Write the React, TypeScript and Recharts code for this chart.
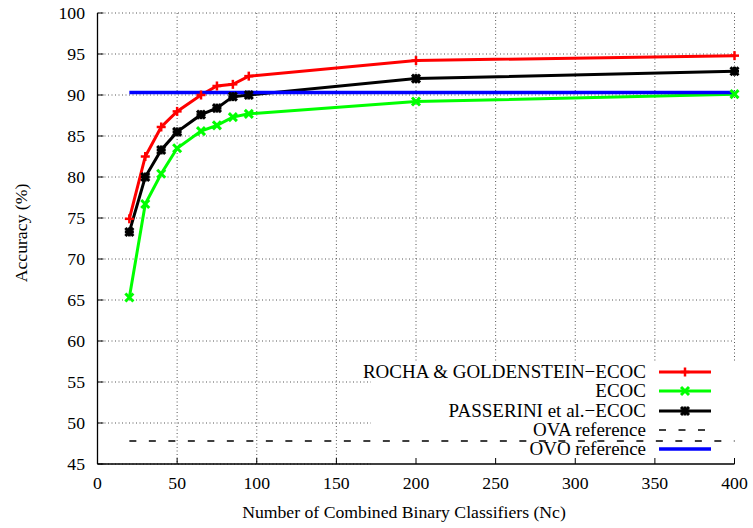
import React from "react";
import {
  LineChart,
  Line,
  XAxis,
  YAxis,
  CartesianGrid,
  Label,
} from "recharts";

// number of combined binary classifiers (Nc)
const nc = [20, 30, 40, 50, 65, 75, 85, 95, 200, 400];

// accuracy (%) per method
const rocha = [74.9, 82.5, 86.1, 88.0, 90.0, 91.1, 91.3, 92.3, 94.2, 94.8];
const ecoc = [65.3, 76.7, 80.4, 83.5, 85.6, 86.3, 87.3, 87.7, 89.2, 90.1];
const passerini = [73.3, 80.0, 83.3, 85.5, 87.6, 88.4, 89.8, 90.0, 92.0, 92.9];
const ovaRef = 47.8;
const ovoRef = 90.3;

const xTicks = [0, 50, 100, 150, 200, 250, 300, 350, 400];
const yTicks = [45, 50, 55, 60, 65, 70, 75, 80, 85, 90, 95, 100];

const legendNames = [
  "ROCHA & GOLDENSTEIN\u2212ECOC",
  "ECOC",
  "PASSERINI et al.\u2212ECOC",
  "OVA reference",
  "OVO reference",
];

const data = nc.map((x, i) => ({
  nc: x,
  rocha: rocha[i],
  ecoc: ecoc[i],
  passerini: passerini[i],
  ova: ovaRef,
  ovo: ovoRef,
}));

const FONT = "'Liberation Serif', 'Times New Roman', Times, serif";
const TICK_FONT = 17.7;
const textStyle = { fontFamily: FONT, fontSize: TICK_FONT, fill: "#000" };
// area of the key where gnuplot leaves the grid out
const KEY_BOX = { left: 371, top: 362 };
const GRID = { stroke: "#555", strokeWidth: 1, strokeDasharray: "1 2.5" };

type MarkProps = { cx?: number; cy?: number; index?: number; color: string };

function PlusMark({ cx = 0, cy = 0, color }: MarkProps) {
  const s = 4.5;
  return (
    <g stroke={color} strokeWidth={2.5}>
      <line x1={cx - s} y1={cy} x2={cx + s} y2={cy} />
      <line x1={cx} y1={cy - s} x2={cx} y2={cy + s} />
    </g>
  );
}

function CrossMark({ cx = 0, cy = 0, color }: MarkProps) {
  const s = 4;
  return (
    <g stroke={color} strokeWidth={3}>
      <line x1={cx - s} y1={cy - s} x2={cx + s} y2={cy + s} />
      <line x1={cx - s} y1={cy + s} x2={cx + s} y2={cy - s} />
    </g>
  );
}

function StarMark({ cx = 0, cy = 0, color }: MarkProps) {
  const s = 4.5;
  const d = 4;
  return (
    <g stroke={color} strokeWidth={3}>
      <line x1={cx - s} y1={cy} x2={cx + s} y2={cy} />
      <line x1={cx} y1={cy - s} x2={cx} y2={cy + s} />
      <line x1={cx - d} y1={cy - d} x2={cx + d} y2={cy + d} />
      <line x1={cx - d} y1={cy + d} x2={cx + d} y2={cy - d} />
    </g>
  );
}

const BottomTick = (p: any) => (
  <g>
    <line x1={p.x} y1={p.y} x2={p.x} y2={p.y - 6} stroke="#000" />
    <text
      x={p.x}
      y={p.y + 19}
      textAnchor="middle"
      dominantBaseline="central"
      style={textStyle}
    >
      {p.payload.value}
    </text>
  </g>
);

const LeftTick = (p: any) => (
  <g>
    <line x1={p.x} y1={p.y} x2={p.x + 6} y2={p.y} stroke="#000" />
    <text
      x={p.x - 12.5}
      y={p.y}
      textAnchor="end"
      dominantBaseline="central"
      style={textStyle}
    >
      {p.payload.value}
    </text>
  </g>
);

const TopTick = (p: any) => (
  <line x1={p.x} y1={p.y} x2={p.x} y2={p.y + 6} stroke="#000" />
);

const RightTick = (p: any) => (
  <line x1={p.x} y1={p.y} x2={p.x - 6} y2={p.y} stroke="#000" />
);

const hGrid = (p: any) => {
  const inKey = p.y1 > KEY_BOX.top;
  return (
    <line
      key={p.key ?? `h-${p.index}`}
      x1={p.x1}
      y1={p.y1}
      x2={inKey ? Math.min(p.x2, KEY_BOX.left) : p.x2}
      y2={p.y2}
      {...GRID}
    />
  );
};

const vGrid = (p: any) => {
  const inKey = p.x1 > KEY_BOX.left;
  const top = Math.min(p.y1, p.y2);
  const bottom = Math.max(p.y1, p.y2);
  return (
    <line
      key={p.key ?? `v-${p.index}`}
      x1={p.x1}
      y1={top}
      x2={p.x2}
      y2={inKey ? KEY_BOX.top : bottom}
      {...GRID}
    />
  );
};

const legendRows = [
  { color: "#ff0000", mark: PlusMark, dash: undefined, width: 3 },
  { color: "#00ff00", mark: CrossMark, dash: undefined, width: 3 },
  { color: "#000000", mark: StarMark, dash: undefined, width: 3 },
  { color: "#000000", mark: null, dash: "7 12.5", width: 1.5 },
  { color: "#0000ff", mark: null, dash: undefined, width: 3.5 },
];

function Key() {
  return (
    <>
      {legendNames.map((name, i) => {
        const row = legendRows[i];
        const cy = 371.7 + i * 19.4;
        const Mark = row.mark;
        return (
          <React.Fragment key={name}>
            <div
              style={{
                position: "absolute",
                left: 0,
                top: cy - 11,
                width: 646,
                height: 22,
                lineHeight: "22px",
                textAlign: "right",
                fontFamily: FONT,
                fontSize: 19,
                color: "#000",
                whiteSpace: "nowrap",
              }}
            >
              {name}
            </div>
            <svg
              width={56}
              height={22}
              style={{ position: "absolute", left: 657, top: cy - 11 }}
            >
              <line
                x1={2}
                y1={11}
                x2={54}
                y2={11}
                stroke={row.color}
                strokeWidth={row.width}
                strokeDasharray={row.dash}
              />
              {Mark && <Mark cx={28} cy={11} color={row.color} />}
            </svg>
          </React.Fragment>
        );
      })}
    </>
  );
}

export default function App() {
  return (
    <div
      style={{
        position: "absolute",
        left: 0,
        top: 0,
        width: 753,
        height: 528,
        background: "#fff",
        fontFamily: FONT,
      }}
    >
      <LineChart
        width={753}
        height={528}
        data={data}
        margin={{ top: 13, right: 18.5, bottom: 0, left: 0 }}
        style={{ fontFamily: FONT }}
      >
        <CartesianGrid horizontal={hGrid} vertical={vGrid} />
        <XAxis
          dataKey="nc"
          type="number"
          domain={[0, 400]}
          ticks={xTicks}
          height={64}
          tickSize={0}
          tickMargin={0}
          tickLine={false}
          axisLine={{ stroke: "#000", strokeWidth: 1.3 }}
          tick={BottomTick}
          interval={0}
        >
          <Label
            content={() => (
              <text
                x={404}
                y={512}
                textAnchor="middle"
                dominantBaseline="central"
                style={textStyle}
              >
                Number of Combined Binary Classifiers (Nc)
              </text>
            )}
          />
        </XAxis>
        <XAxis
          xAxisId="top"
          orientation="top"
          dataKey="nc"
          type="number"
          domain={[0, 400]}
          ticks={xTicks}
          height={0}
          tickSize={0}
          tickMargin={0}
          tickLine={false}
          axisLine={{ stroke: "#000", strokeWidth: 1.3 }}
          tick={TopTick}
          interval={0}
        />
        <YAxis
          type="number"
          domain={[45, 100]}
          ticks={yTicks}
          width={97.5}
          tickSize={0}
          tickMargin={0}
          tickLine={false}
          axisLine={{ stroke: "#000", strokeWidth: 1.3 }}
          tick={LeftTick}
          interval={0}
        >
          <Label
            content={() => (
              <text
                x={21}
                y={233}
                transform="rotate(-90, 21, 233)"
                textAnchor="middle"
                dominantBaseline="central"
                style={textStyle}
              >
                Accuracy (%)
              </text>
            )}
          />
        </YAxis>
        <YAxis
          yAxisId="right"
          orientation="right"
          type="number"
          domain={[45, 100]}
          ticks={yTicks}
          width={0}
          tickSize={0}
          tickMargin={0}
          tickLine={false}
          axisLine={{ stroke: "#000", strokeWidth: 1.3 }}
          tick={RightTick}
          interval={0}
        />
        <Line
          type="linear"
          dataKey="rocha"
          stroke="#ff0000"
          strokeWidth={3}
          dot={(p: any) => <PlusMark key={`r-${p.index}`} cx={p.cx} cy={p.cy} color="#ff0000" />}
          activeDot={false}
          isAnimationActive={false}
        />
        <Line
          type="linear"
          dataKey="ecoc"
          stroke="#00ff00"
          strokeWidth={3}
          dot={(p: any) => <CrossMark key={`g-${p.index}`} cx={p.cx} cy={p.cy} color="#00ff00" />}
          activeDot={false}
          isAnimationActive={false}
        />
        <Line
          type="linear"
          dataKey="passerini"
          stroke="#000000"
          strokeWidth={3}
          dot={(p: any) => <StarMark key={`b-${p.index}`} cx={p.cx} cy={p.cy} color="#000000" />}
          activeDot={false}
          isAnimationActive={false}
        />
        <Line
          type="linear"
          dataKey="ova"
          stroke="#000000"
          strokeWidth={1.5}
          strokeDasharray="7 12.5"
          dot={false}
          activeDot={false}
          isAnimationActive={false}
        />
        <Line
          type="linear"
          dataKey="ovo"
          stroke="#0000ff"
          strokeWidth={3.5}
          dot={false}
          activeDot={false}
          isAnimationActive={false}
        />
      </LineChart>
      <Key />
    </div>
  );
}
